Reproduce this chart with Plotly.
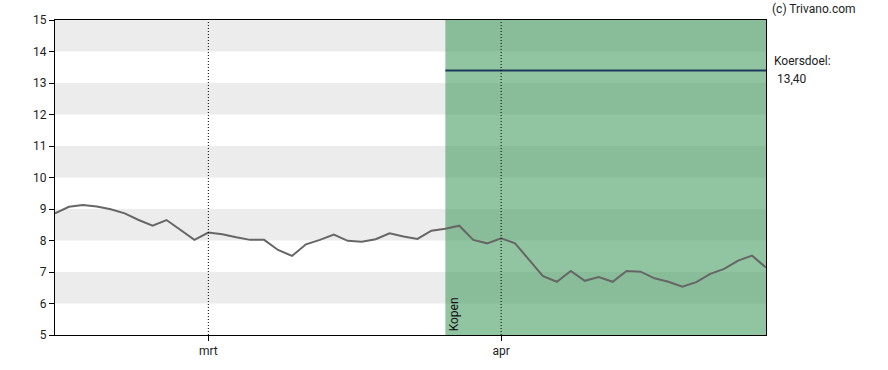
import plotly.graph_objects as go

# Data: trading-day index and closing prices
day_index = list(range(52))
prices = [8.86, 9.07, 9.13, 9.08, 8.99, 8.86, 8.65, 8.47, 8.65, 8.33,
          8.02, 8.25, 8.20, 8.10, 8.02, 8.02, 7.70, 7.51, 7.88, 8.02,
          8.19, 7.99, 7.96, 8.04, 8.23, 8.13, 8.05, 8.31, 8.37, 8.47,
          8.02, 7.91, 8.07, 7.91, 7.38, 6.87, 6.69, 7.03, 6.72, 6.84,
          6.69, 7.03, 7.01, 6.80, 6.69, 6.53, 6.68, 6.94, 7.10, 7.36,
          7.52, 7.14]
month_tick_pos = [11, 32]
month_tick_labels = ["mrt", "apr"]
advice_start = 28
advice_label = "Kopen"
target_price = 13.40
target_label = "Koersdoel:"
target_value_text = " 13,40"
y_ticks = [5, 6, 7, 8, 9, 10, 11, 12, 13, 14, 15]
grey_bands = [(6, 7), (8, 9), (10, 11), (12, 13), (14, 15)]

x_end = day_index[-1]
FONT = "Roboto, Arial, sans-serif"

fig = go.Figure()

shapes = []
for y0, y1 in grey_bands:
    shapes.append(dict(type="rect", xref="x", yref="y", x0=0, x1=x_end, y0=y0, y1=y1,
                       fillcolor="#ececec", line=dict(width=0), layer="below"))
shapes.append(dict(type="rect", xref="x", yref="y", x0=advice_start, x1=x_end, y0=5, y1=15,
                   fillcolor="rgba(65,155,93,0.58)", line=dict(width=0), layer="below"))
for p in month_tick_pos:
    shapes.append(dict(type="line", xref="x", yref="y", x0=p, x1=p, y0=5, y1=15,
                       line=dict(color="#000000", width=1, dash="1px,2px"), layer="above"))

fig.add_trace(go.Scatter(x=day_index, y=prices, mode="lines",
                         line=dict(color="#666666", width=2), hoverinfo="skip"))
fig.add_trace(go.Scatter(x=[advice_start, x_end], y=[target_price, target_price], mode="lines",
                         line=dict(color="#1c3a5c", width=2), hoverinfo="skip"))

annotations = [
    dict(x=advice_start, y=5, xref="x", yref="y", text=advice_label, textangle=-90,
         showarrow=False, xanchor="left", yanchor="bottom", xshift=0, yshift=2,
         font=dict(family=FONT, size=12, color="#111111")),
    dict(x=1, y=target_price, xref="paper", yref="y", text=target_label, showarrow=False,
         xanchor="left", yanchor="middle", xshift=6, yshift=9, align="left",
         font=dict(family=FONT, size=12, color="#222222")),
    dict(x=1, y=target_price, xref="paper", yref="y", text=target_value_text, showarrow=False,
         xanchor="left", yanchor="middle", xshift=6, yshift=-9, align="left",
         font=dict(family=FONT, size=12, color="#222222")),
    dict(x=1, y=1, xref="paper", yref="paper", text="(c) Trivano.com", showarrow=False,
         xanchor="left", yanchor="middle", xshift=4, yshift=11,
         font=dict(family=FONT, size=12, color="#222222")),
]

fig.update_layout(
    width=888, height=370,
    margin=dict(l=55, r=122, t=20, b=35, autoexpand=False),
    paper_bgcolor="white", plot_bgcolor="white",
    showlegend=False,
    hovermode=False,
    shapes=shapes,
    annotations=annotations,
    font=dict(family=FONT, size=12, color="#222222"),
    xaxis=dict(range=[0, x_end], tickvals=month_tick_pos, ticktext=month_tick_labels,
               showgrid=False, zeroline=False, showline=True, linecolor="black", linewidth=1,
               mirror=True, ticks="outside", ticklen=5, tickcolor="black", automargin=False,
               tickfont=dict(family=FONT, size=12, color="#222222")),
    yaxis=dict(range=[5, 15], tickvals=y_ticks, showgrid=False, zeroline=False,
               showline=True, linecolor="black", linewidth=1, mirror=True,
               ticks="outside", ticklen=5, tickcolor="black", automargin=False,
               tickfont=dict(family=FONT, size=12, color="#222222")),
)

fig.write_html(
    "out.html",
    config={"displayModeBar": False, "staticPlot": True},
    post_script="document.body.style.margin='0';document.body.style.overflow='hidden';",
)
